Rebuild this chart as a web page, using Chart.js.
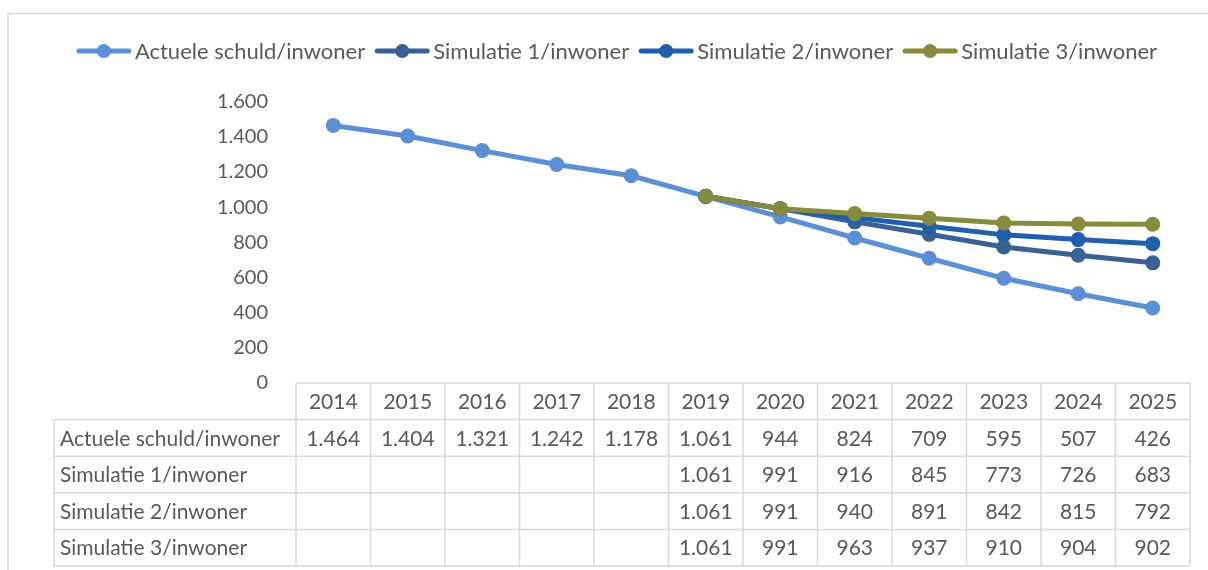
<!DOCTYPE html>
<html>
<head>
<meta charset="utf-8">
<script src="https://cdn.jsdelivr.net/npm/chart.js@4.4.1/dist/chart.umd.min.js"></script>
<style>
  html, body { margin: 0; padding: 0; background: #fff; }
  canvas { display: block; }
</style>
</head>
<body>
<canvas id="debtChart" width="1208" height="570"></canvas>
<script>
const years = ["2014", "2015", "2016", "2017", "2018", "2019", "2020", "2021", "2022", "2023", "2024", "2025"];
const actuele = [1464, 1404, 1321, 1242, 1178, 1061, 944, 824, 709, 595, 507, 426];
const simulatie1 = [null, null, null, null, null, 1061, 991, 916, 845, 773, 726, 683];
const simulatie2 = [null, null, null, null, null, 1061, 991, 940, 891, 842, 815, 792];
const simulatie3 = [null, null, null, null, null, 1061, 991, 963, 937, 910, 904, 902];
const seriesNames = ["Actuele schuld/inwoner", "Simulatie 1/inwoner", "Simulatie 2/inwoner", "Simulatie 3/inwoner"];
const yMax = 1600;
const yStep = 200;

const colors = ["#5b8fd6", "#3a6194", "#1f5fad", "#878b3c"];
const textColor = "#595959";
const gridColor = "#d9d9d9";
const font = "Lato, 'Open Sans', sans-serif";

// dutch thousands separator: 1464 -> 1.464
function fmt(v) {
  return String(v).replace(/\B(?=(\d{3})+(?!\d))/g, ".");
}

// outer frame around the whole chart
const framePlugin = {
  id: "frame",
  beforeDraw(chart) {
    const ctx = chart.ctx;
    ctx.save();
    ctx.strokeStyle = gridColor;
    ctx.lineWidth = 1.5;
    ctx.strokeRect(8, 13.5, chart.width + 20, chart.height + 20);
    ctx.restore();
  }
};

// legend: line sample with a dot, then the series name
const legendPlugin = {
  id: "lineLegend",
  afterDraw(chart) {
    const ctx = chart.ctx;
    const y = 51;
    const sampleW = 54;
    ctx.save();
    ctx.font = "22px " + font;
    ctx.textBaseline = "middle";
    ctx.textAlign = "left";
    const items = chart.data.datasets.map(ds => ({ ds, w: sampleW + 4 + ctx.measureText(ds.label).width }));
    const gap = 10;
    const total = items.reduce((s, it) => s + it.w, 0) + gap * (items.length - 1);
    let x = 617 - total / 2;
    items.forEach(it => {
      ctx.strokeStyle = it.ds.borderColor;
      ctx.lineWidth = 5;
      ctx.lineCap = "round";
      ctx.beginPath();
      ctx.moveTo(x + 2, y);
      ctx.lineTo(x + sampleW - 2, y);
      ctx.stroke();
      ctx.fillStyle = it.ds.borderColor;
      ctx.beginPath();
      ctx.arc(x + sampleW / 2, y, 7, 0, Math.PI * 2);
      ctx.fill();
      ctx.fillStyle = textColor;
      ctx.fillText(it.ds.label, x + sampleW + 4, y + 1);
      x += it.w + gap;
    });
    ctx.restore();
  }
};

// data table under the plot, columns follow the category scale
const tablePlugin = {
  id: "dataTable",
  afterDraw(chart) {
    const { ctx, chartArea } = chart;
    const xScale = chart.scales.x;
    const colW = (chartArea.right - chartArea.left) / years.length;
    const rowH = 36.6;
    const top = chartArea.bottom;
    const labelLeft = 54;
    const rows = chart.data.datasets;

    ctx.save();
    ctx.strokeStyle = gridColor;
    ctx.lineWidth = 1.5;
    ctx.beginPath();
    ctx.moveTo(chartArea.left, top);
    ctx.lineTo(chartArea.right, top);
    for (let k = 1; k <= rows.length + 1; k++) {
      ctx.moveTo(labelLeft, top + rowH * k);
      ctx.lineTo(chartArea.right, top + rowH * k);
    }
    for (let i = 0; i <= years.length; i++) {
      const cx = chartArea.left + i * colW;
      ctx.moveTo(cx, top);
      ctx.lineTo(cx, top + rowH * (rows.length + 1));
    }
    ctx.moveTo(labelLeft, top + rowH);
    ctx.lineTo(labelLeft, top + rowH * (rows.length + 1));
    ctx.stroke();

    ctx.fillStyle = textColor;
    ctx.textBaseline = "middle";
    ctx.font = "21px " + font;
    ctx.textAlign = "center";
    years.forEach((yr, i) => {
      ctx.fillText(yr, xScale.getPixelForValue(i), top + rowH / 2 + 1);
    });
    rows.forEach((ds, r) => {
      const cy = top + rowH * (r + 1.5) + 1;
      ctx.textAlign = "left";
      ctx.fillText(ds.label, labelLeft + 6, cy);
      ctx.textAlign = "center";
      ds.data.forEach((v, i) => {
        if (v !== null) ctx.fillText(fmt(v), xScale.getPixelForValue(i), cy);
      });
    });
    ctx.restore();
  }
};

function lineSet(label, data, color, order) {
  return {
    label,
    data,
    order,
    borderColor: color,
    backgroundColor: color,
    pointBackgroundColor: color,
    pointBorderWidth: 0,
    pointRadius: 7.5,
    borderWidth: 5,
    tension: 0,
    spanGaps: false
  };
}

new Chart(document.getElementById("debtChart"), {
  type: "line",
  data: {
    labels: years,
    datasets: [
      lineSet(seriesNames[0], actuele, colors[0], 4),
      lineSet(seriesNames[1], simulatie1, colors[1], 3),
      lineSet(seriesNames[2], simulatie2, colors[2], 2),
      lineSet(seriesNames[3], simulatie3, colors[3], 1)
    ]
  },
  options: {
    responsive: false,
    animation: false,
    layout: { padding: { top: 101.5, bottom: 187, left: 0, right: 18 } },
    plugins: {
      legend: { display: false },
      tooltip: { enabled: false }
    },
    scales: {
      x: {
        display: false,
        offset: true
      },
      y: {
        min: 0,
        max: yMax,
        afterFit(scale) { scale.width = 296; },
        grid: { display: false, drawTicks: false },
        border: { display: false },
        ticks: {
          stepSize: yStep,
          padding: 28,
          color: textColor,
          font: { family: font, size: 20 },
          callback: v => fmt(v)
        }
      }
    }
  },
  plugins: [framePlugin, legendPlugin, tablePlugin]
});
</script>
</body>
</html>
